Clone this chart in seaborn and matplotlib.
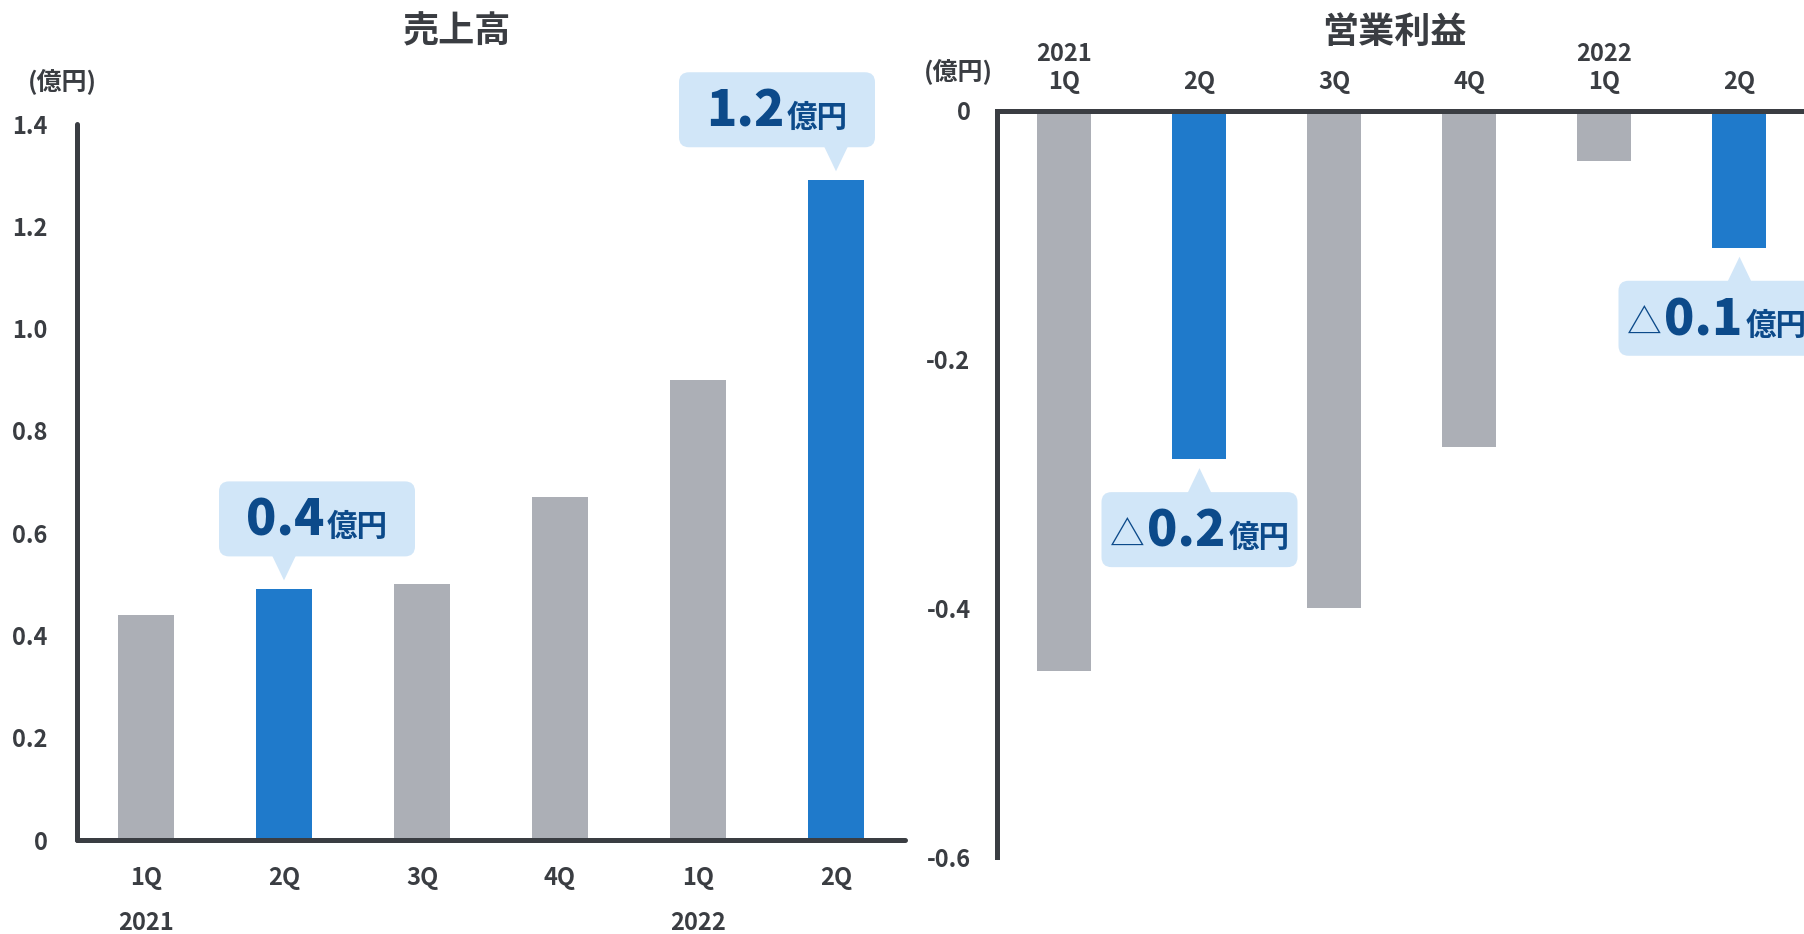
import matplotlib
matplotlib.use("Agg")
import numpy as np
import pandas as pd
import matplotlib.pyplot as plt
import seaborn as sns
from matplotlib.patches import FancyBboxPatch, Polygon
from matplotlib.transforms import IdentityTransform
from matplotlib.offsetbox import TextArea, HPacker, AnnotationBbox

# ---- data -------------------------------------------------------------
periods = ["2021 1Q", "2021 2Q", "2021 3Q", "2021 4Q", "2022 1Q", "2022 2Q"]
quarter_labels = ["1Q", "2Q", "3Q", "4Q", "1Q", "2Q"]
year_labels = ["2021", "", "", "", "2022", ""]
sales = [0.44, 0.49, 0.50, 0.67, 0.90, 1.29]            # 売上高 (億円)
operating_profit = [-0.45, -0.28, -0.40, -0.27, -0.04, -0.11]  # 営業利益 (億円)
highlighted = ["2021 2Q", "2022 2Q"]

sales_ticks = [0, 0.2, 0.4, 0.6, 0.8, 1.0, 1.2, 1.4]
sales_tick_labels = ["0", "0.2", "0.4", "0.6", "0.8", "1.0", "1.2", "1.4"]
profit_ticks = [0, -0.2, -0.4, -0.6]
profit_tick_labels = ["0", "-0.2", "-0.4", "-0.6"]

# ---- style ------------------------------------------------------------
GRAY = "#ACAFB6"
BLUE = "#1F7ACB"
INK = "#3A3D42"
BUBBLE = "#D1E6F8"
BUBBLE_TXT = "#0C4A8A"

sns.set_theme(style="white")
plt.rcParams["font.family"] = ["Noto Sans CJK JP", "DejaVu Sans"]
plt.rcParams["font.weight"] = "bold"

W_PX, H_PX, DPI = 1804, 934, 100
fig = plt.figure(figsize=(W_PX / DPI, H_PX / DPI), dpi=DPI)
fig.patch.set_facecolor("white")


def px_rect(left, top, right, bottom):
    return [left / W_PX, 1 - bottom / H_PX, (right - left) / W_PX, (bottom - top) / H_PX]


ax1 = fig.add_axes(px_rect(77, 124, 905, 840))
ax2 = fig.add_axes(px_rect(997, 111, 1807, 857))

palette = {p: (BLUE if p in highlighted else GRAY) for p in periods}

df = pd.DataFrame({"period": periods, "sales": sales, "profit": operating_profit})

sns.barplot(data=df, x="period", y="sales", hue="period", palette=palette,
            order=periods, hue_order=periods, legend=False, width=0.41,
            linewidth=0, saturation=1, ax=ax1)
sns.barplot(data=df, x="period", y="profit", hue="period", palette=palette,
            order=periods, hue_order=periods, legend=False, width=0.40,
            linewidth=0, saturation=1, ax=ax2)

for ax in (ax1, ax2):
    ax.set_xlabel("")
    ax.set_ylabel("")
    ax.set_xlim(-0.5, 5.5)
    ax.set_facecolor("none")
    ax.tick_params(length=0, labelsize=17, labelcolor=INK)
    for s in ax.spines.values():
        s.set_color(INK)
        s.set_linewidth(3.6)

# left panel: sales
ax1.set_ylim(0, 1.4)
ax1.set_yticks(sales_ticks)
ax1.set_yticklabels(sales_tick_labels)
ax1.set_xticks(range(len(periods)))
ax1.set_xticklabels(quarter_labels)
ax1.tick_params(axis="x", pad=19)
ax1.tick_params(axis="y", pad=21)
ax1.spines["top"].set_visible(False)
ax1.spines["right"].set_visible(False)
ax1.spines["left"].set_capstyle("round")
ax1.spines["bottom"].set_capstyle("round")
for i, yl in enumerate(year_labels):
    if yl:
        ax1.text(i, -0.116, yl, transform=ax1.get_xaxis_transform(),
                 ha="center", va="center", fontsize=17, color=INK, fontweight="bold")

# right panel: operating profit
ax2.set_ylim(-0.6, 0)
ax2.set_yticks(profit_ticks)
ax2.set_yticklabels(profit_tick_labels)
ax2.xaxis.tick_top()
ax2.set_xticks(range(len(periods)))
ax2.set_xticklabels([f"{y}\n{q}" if y else q for y, q in zip(year_labels, quarter_labels)])
for lab in ax2.get_xticklabels():
    lab.set_linespacing(1.25)
ax2.tick_params(axis="x", pad=12)
ax2.tick_params(axis="y", pad=19)
ax2.spines["bottom"].set_visible(False)
ax2.spines["right"].set_visible(False)

for lab in ax1.get_xticklabels() + ax1.get_yticklabels() + ax2.get_xticklabels() + ax2.get_yticklabels():
    lab.set_fontweight("bold")

# titles and units
fig.text(457 / W_PX, 1 - 32 / H_PX, "売上高", ha="center", va="center",
         fontsize=26, fontweight="bold", color=INK)
fig.text(1394 / W_PX, 1 - 32 / H_PX, "営業利益", ha="center", va="center",
         fontsize=26, fontweight="bold", color=INK)
fig.text(62 / W_PX, 1 - 81 / H_PX, "(億円)", ha="center", va="center",
         fontsize=18, fontweight="bold", color=INK)
fig.text(958 / W_PX, 1 - 71 / H_PX, "(億円)", ha="center", va="center",
         fontsize=18, fontweight="bold", color=INK)


# ---- callout bubbles --------------------------------------------------
def truncated(v):
    return f"{np.floor(round(abs(v) * 10, 6)) / 10:.1f}"


def bubble(ax, x, value, dx, negative):
    px, py = ax.transData.transform((x, value))
    bw, bh, gap, tip, half, r = 196, 75, 33, 9, 12, 10
    cx = px + dx
    if not negative:
        y0 = py + gap
        base, tipy = y0 + 1, py + tip
    else:
        y0 = py - gap - bh
        base, tipy = y0 + bh - 1, py - tip
    box = FancyBboxPatch((cx - bw / 2, y0), bw, bh,
                         boxstyle=f"round,pad=0,rounding_size={r}",
                         facecolor=BUBBLE, edgecolor="none",
                         transform=IdentityTransform(), zorder=5)
    tri = Polygon([(px - half, base), (px + half, base), (px, tipy)], closed=True,
                  facecolor=BUBBLE, edgecolor="none",
                  transform=IdentityTransform(), zorder=5)
    fig.add_artist(box)
    fig.add_artist(tri)

    parts = []
    if negative:
        parts.append(TextArea("△", textprops=dict(fontsize=25, fontweight="normal",
                                                  color=BUBBLE_TXT)))
    parts.append(TextArea(truncated(value), textprops=dict(fontsize=36, fontweight="heavy",
                                                           color=BUBBLE_TXT)))
    parts.append(TextArea("億円", textprops=dict(fontsize=22, fontweight="bold",
                                                color=BUBBLE_TXT)))
    pack = HPacker(children=parts, align="baseline", pad=0, sep=2)
    ab = AnnotationBbox(pack, (cx, y0 + bh / 2 - 2), xycoords="figure pixels",
                        frameon=False, box_alignment=(0.5, 0.5), zorder=6)
    fig.add_artist(ab)


sales_offsets = {"2021 2Q": 33, "2022 2Q": -59}
profit_offsets = {"2021 2Q": 0, "2022 2Q": -23}
for i, p in enumerate(periods):
    if p in highlighted:
        bubble(ax1, i, sales[i], sales_offsets[p], negative=False)
        bubble(ax2, i, operating_profit[i], profit_offsets[p], negative=True)

fig.savefig("out.png", dpi=DPI, facecolor="white")
